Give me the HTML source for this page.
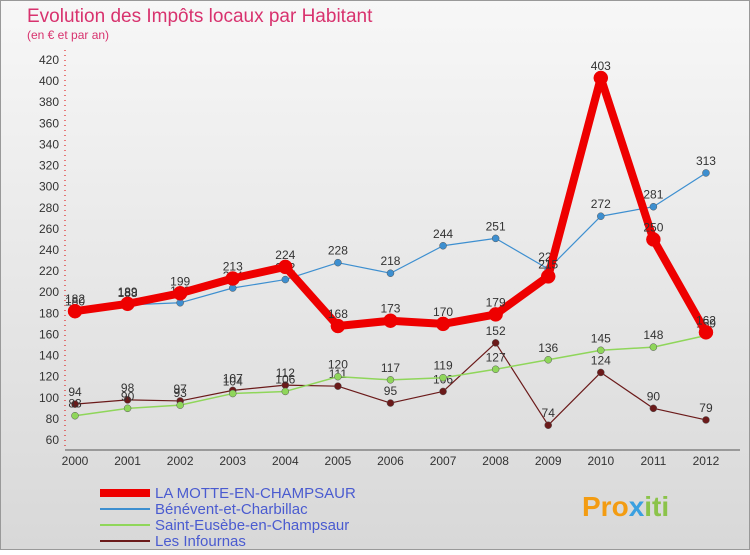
<!DOCTYPE html>
<html><head><meta charset="utf-8"><style>
body{margin:0;width:750px;height:550px;overflow:hidden;font-family:"Liberation Sans",sans-serif;}
</style></head><body>
<svg width="750" height="550" xmlns="http://www.w3.org/2000/svg">
<defs><linearGradient id="bg" x1="0" y1="0" x2="0" y2="1"><stop offset="0" stop-color="#f7f7f7"/><stop offset="1" stop-color="#d8d8d8"/></linearGradient></defs>
<rect x="0.5" y="0.5" width="749" height="549" fill="url(#bg)" stroke="#999"/>
<text x="27" y="22" font-size="19" fill="#d8326e">Evolution des Impôts locaux par Habitant</text>
<text x="27" y="39" font-size="12" fill="#d8326e">(en € et par an)</text>
<g id="axes"></g>
<g id="series"></g>
<g id="legend"></g>
<text x="582" y="516" font-size="28" font-weight="bold"><tspan fill="#f39c12">Pro</tspan><tspan fill="#3aa0e0">x</tspan><tspan fill="#8bc34a">iti</tspan></text>
</svg>
<script>
const years=["2000","2001","2002","2003","2004","2005","2006","2007","2008","2009","2010","2011","2012"];
const red=[182,189,199,213,224,168,173,170,179,215,403,250,162];
const blue=[180,188,190,204,212,228,218,244,251,222,272,281,313];
const green=[83,90,93,104,106,120,117,119,127,136,145,148,159];
const maroon=[94,98,97,107,112,111,95,106,152,74,124,90,79];
const yTicks=[60,80,100,120,140,160,180,200,220,240,260,280,300,320,340,360,380,400,420];
const names=["LA MOTTE-EN-CHAMPSAUR","Bénévent-et-Charbillac","Saint-Eusèbe-en-Champsaur","Les Infournas"];
const NS="http://www.w3.org/2000/svg";
const X=i=>75+i*52.58, Y=v=>440-(v-60)*380/360;
function mk(t,a,p){const e=document.createElementNS(NS,t);for(const k in a)e.setAttribute(k,a[k]);(p||document.getElementById('axes')).appendChild(e);return e;}
let l=mk('line',{x1:65,y1:50,x2:65,y2:450,stroke:'#d00','stroke-dasharray':'1,4'});

l=mk('line',{x1:65,y1:450,x2:740,y2:450,stroke:'#555'});

yTicks.forEach(v=>{const t=mk('text',{x:59,y:Y(v)+4,'font-size':12,'text-anchor':'end',fill:'#333'});t.textContent=v;
});
years.forEach((y,i)=>{const t=mk('text',{x:X(i),y:465,'font-size':12,'text-anchor':'middle',fill:'#333'});t.textContent=y;
});
const sg=document.getElementById('series');
function series(d,col,w,r,nm){const g=mk('g',{},sg);
mk('polyline',{points:d.map((v,i)=>X(i)+','+Y(v)).join(' '),fill:'none',stroke:col,'stroke-width':w,'stroke-linejoin':'round'},g);
d.forEach((v,i)=>{const c=mk('circle',{cx:X(i),cy:Y(v),r:r,fill:col,stroke:w>3?col:'#555','stroke-width':0.5},g);

const t=mk('text',{x:X(i),y:Y(v)-8,'font-size':12,'text-anchor':'middle',fill:'#333'},g);t.textContent=v;
});}
series(maroon,'#6b1a1a',1.2,3.5,'series-les-infournas');
series(green,'#8fd65a',1.5,3.5,'series-saint-eusebe');
series(blue,'#3d8fd0',1.2,3.5,'series-benevent');
series(red,'#ee0000',8,7,'series-la-motte');
const lg=document.getElementById('legend');
const cols=['#ee0000','#3d8fd0','#8fd65a','#6b1a1a'],ws=[8,2,2,2];
names.forEach((n,i)=>{const y=493+i*16;const g=mk('g',{},lg);
mk('line',{x1:100,y1:y,x2:150,y2:y,stroke:cols[i],'stroke-width':ws[i]},g);
const t=mk('text',{x:155,y:y+5,'font-size':15,fill:'#4a5bd0'},g);t.textContent=n;});
</script>
</body></html>
